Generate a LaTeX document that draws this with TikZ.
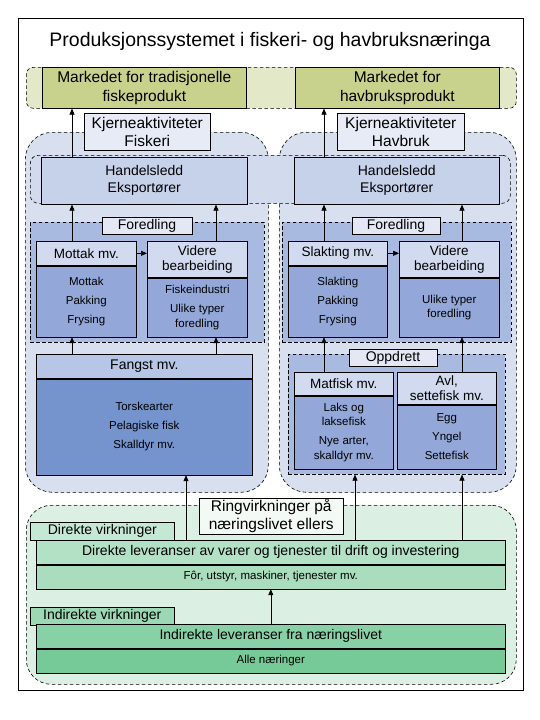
\documentclass[tikz,border=0pt]{standalone}
\usepackage{fontspec}
\setmainfont{Liberation Sans}
\usetikzlibrary{positioning,arrows.meta}

\definecolor{mktbg}{HTML}{E3E8C8}
\definecolor{mktfill}{HTML}{C9D28C}
\definecolor{regbg}{HTML}{D8E0F0}
\definecolor{bandbg}{HTML}{D2DBEE}
\definecolor{kjfill}{HTML}{E6EBF6}
\definecolor{handfill}{HTML}{C6D1EA}
\definecolor{procbg}{HTML}{A9BAE0}
\definecolor{tagfill}{HTML}{E3E8F4}
\definecolor{hdrfill}{HTML}{D2DAEF}
\definecolor{bodyfill}{HTML}{93A8D9}
\definecolor{fangsthdrfill}{HTML}{B7C5E6}
\definecolor{fangstbodyfill}{HTML}{7593CD}
\definecolor{ringbg}{HTML}{DBF0E3}
\definecolor{ringlblfill}{HTML}{F3FAF5}
\definecolor{dirtabfill}{HTML}{C5E8D4}
\definecolor{dirhdrfill}{HTML}{B2E1C6}
\definecolor{dirbodyfill}{HTML}{A9DDBE}
\definecolor{indtabfill}{HTML}{9DD8B5}
\definecolor{indhdrfill}{HTML}{88D1A6}
\definecolor{indbodyfill}{HTML}{76CA97}

\begin{document}
\begin{tikzpicture}[x=1pt,y=-1pt]
  % Settings
  \tikzset{
    frame/.style={draw, line width=.8pt, inner sep=0pt},
    heading/.style={font=\fontsize{19.5}{22}\selectfont},
    dashline/.style={draw, dash pattern=on 3.5pt off 2.5pt, line width=.6pt, inner sep=0pt},
    mktband/.style={dashline, rounded corners=7pt, fill=mktbg},
    mkt/.style={draw, line width=.6pt, fill=mktfill, align=center, inner sep=0pt, font=\fontsize{15.5}{19.5}\selectfont},
    region/.style={dashline, rounded corners=27pt, fill=regbg},
    handband/.style={dashline, rounded corners=8pt, fill=bandbg},
    kjerne/.style={draw, line width=.6pt, fill=kjfill, align=center, inner sep=0pt, font=\fontsize{15.5}{18}\selectfont},
    hand/.style={draw, line width=.6pt, fill=handfill, align=center, inner sep=0pt, font=\fontsize{14}{17}\selectfont},
    proc/.style={dashline, fill=procbg},
    tagbox/.style={draw, line width=.6pt, fill=tagfill, inner sep=0pt, font=\fontsize{14}{16}\selectfont},
    hdr/.style={draw, line width=.6pt, fill=hdrfill, align=center, inner sep=0pt, font=\fontsize{13.5}{15}\selectfont},
    body/.style={draw, line width=.6pt, fill=bodyfill, align=center, inner sep=0pt, font=\fontsize{11.5}{14.5}\selectfont},
    fangsthdr/.style={hdr, fill=fangsthdrfill, font=\fontsize{14}{16}\selectfont},
    fangstbody/.style={body, fill=fangstbodyfill},
    ringregion/.style={dashline, rounded corners=25pt, fill=ringbg},
    ringlbl/.style={draw, line width=.6pt, fill=ringlblfill, align=center, inner sep=0pt, font=\fontsize{15.5}{18}\selectfont},
    wide/.style={draw, line width=.6pt, inner sep=0pt, minimum width=469pt, minimum height=24pt},
    tabbox/.style={draw, line width=.6pt, inner sep=0pt, minimum width=144pt, minimum height=18pt, anchor=north west, font=\fontsize{14}{16}\selectfont},
    arr/.style={-{Triangle[length=6pt,width=5pt]}, line width=.6pt},
  }
  \useasboundingbox (0,0) rectangle (540,720);
  % Frame and title
  \node[frame, anchor=north west, minimum width=505pt, minimum height=672pt] (frame) at (18,18) {};
  \node[heading] (title) at (270,41) {Produksjonssystemet i fiskeri- og havbruksnæringa};
  % Markets
  \node[mktband, anchor=north west, minimum width=490pt, minimum height=41pt] (mktband) at (26,67) {};
  \node[mkt, anchor=north west, minimum width=204pt, minimum height=41pt] (mktfisk) at (42,67) {Markedet for tradisjonelle\\fiskeprodukt};
  \node[mkt, anchor=north west, minimum width=204pt, minimum height=41pt] (mkthav) at (295,67) {Markedet for\\havbruksprodukt};
  % Core activities
  \node[region, anchor=north west, minimum width=243pt, minimum height=360pt] (fiskeri) at (25,132) {};
  \node[region, anchor=north west, minimum width=237pt, minimum height=360pt] (havbruk) at (279,132) {};
  \node[handband, anchor=north west, minimum width=480pt, minimum height=48pt] (handband) at (30,155) {};
  \node[kjerne, anchor=north west, minimum width=126pt, minimum height=37pt] (kjfisk) at (84,113) {Kjerneaktiviteter\\Fiskeri};
  \node[kjerne, anchor=north west, minimum width=127pt, minimum height=37pt] (kjhav) at (337,113) {Kjerneaktiviteter\\Havbruk};
  \node[hand, anchor=north west, minimum width=206pt, minimum height=47pt] (handfisk) at (41,157) {Handelsledd\\Eksportører};
  \node[hand, anchor=north west, minimum width=205pt, minimum height=47pt] (handhav) at (294,157) {Handelsledd\\Eksportører};
  % Foredling
  \node[proc, anchor=north west, minimum width=234pt, minimum height=120pt] (foredfisk) at (30,222) {};
  \node[proc, anchor=north west, minimum width=229pt, minimum height=120pt] (foredhav) at (282,222) {};
  \node[tagbox, minimum width=90pt, minimum height=17pt] (tagfisk) at (147,225.5) {Foredling};
  \node[tagbox, minimum width=88pt, minimum height=17pt] (taghav) at (396,225.5) {Foredling};
  \node[hdr, anchor=north west, minimum width=100pt, minimum height=24pt] (mottak) at (36,241) {Mottak mv.};
  \node[body, minimum width=100pt, minimum height=71pt, below=0pt of mottak] (mottakb) {Mottak\\[4.5pt]Pakking\\[4.5pt]Frysing};
  \node[hdr, anchor=north west, minimum width=100pt, minimum height=36pt] (viderefisk) at (147,241) {Videre\\bearbeiding};
  \node[body, minimum width=100pt, minimum height=59pt, below=0pt of viderefisk] (viderefiskb) {Fiskeindustri\\[4.5pt]Ulike typer\\foredling};
  \node[hdr, anchor=north west, minimum width=99pt, minimum height=24pt] (slakting) at (288,241) {Slakting mv.};
  \node[body, minimum width=99pt, minimum height=71pt, below=0pt of slakting] (slaktingb) {Slakting\\[4.5pt]Pakking\\[4.5pt]Frysing};
  \node[hdr, anchor=north west, minimum width=100pt, minimum height=36pt] (viderehav) at (399,241) {Videre\\bearbeiding};
  \node[body, minimum width=100pt, minimum height=59pt, below=0pt of viderehav] (viderehavb) {Ulike typer\\foredling};
  % Fangst
  \node[fangsthdr, anchor=north west, minimum width=216pt, minimum height=24pt] (fangst) at (36,354) {Fangst mv.};
  \node[fangstbody, minimum width=216pt, minimum height=96pt, below=0pt of fangst] (fangstb) {Torskearter\\[4.5pt]Pelagiske fisk\\[4.5pt]Skalldyr mv.};
  % Oppdrett
  \node[proc, anchor=north west, minimum width=217pt, minimum height=120pt] (oppdrett) at (288,354) {};
  \node[tagbox, minimum width=88pt, minimum height=17pt] (tagopp) at (393,357.5) {Oppdrett};
  \node[hdr, anchor=north west, minimum width=99pt, minimum height=23pt] (matfisk) at (294,372) {Matfisk mv.};
  \node[body, minimum width=99pt, minimum height=73pt, below=0pt of matfisk] (matfiskb) {Laks og\\laksefisk\\[4.5pt]Nye arter,\\skalldyr mv.};
  \node[hdr, anchor=north west, minimum width=99pt, minimum height=32pt] (avl) at (397,372) {Avl,\\settefisk mv.};
  \node[body, minimum width=99pt, minimum height=64pt, below=0pt of avl] (avlb) {Egg\\[4.5pt]Yngel\\[4.5pt]Settefisk};
  % Ripple effects
  \node[ringregion, anchor=north west, minimum width=490pt, minimum height=179pt] (ring) at (26,505) {};
  \node[ringlbl, anchor=north west, minimum width=144pt, minimum height=36pt] (ringlbl) at (199,498) {Ringvirkninger på\\næringslivet ellers};
  \node[tabbox, fill=dirtabfill] (dirtab) at (30,522) {Direkte virkninger};
  \node[wide, fill=dirhdrfill, anchor=north west, font=\fontsize{14}{16}\selectfont] (direkte) at (36,540) {Direkte leveranser av varer og tjenester til drift og investering};
  \node[wide, fill=dirbodyfill, below=0pt of direkte, font=\fontsize{11.5}{14}\selectfont] (direkteb) {Fôr, utstyr, maskiner, tjenester mv.};
  \node[tabbox, fill=indtabfill] (indtab) at (30,607) {Indirekte virkninger};
  \node[wide, fill=indhdrfill, anchor=north west, font=\fontsize{14}{16}\selectfont] (indirekte) at (36,624) {Indirekte leveranser fra næringslivet};
  \node[wide, fill=indbodyfill, below=0pt of indirekte, font=\fontsize{11.5}{14}\selectfont] (indirekteb) {Alle næringer};
  % Arrows
  \coordinate (xa) at (72,0);
  \coordinate (xb) at (216,0);
  \coordinate (xc) at (324,0);
  \coordinate (xd) at (462,0);
  \coordinate (xe) at (186,0);
  \coordinate (xf) at (355,0);
  \draw[arr] (handfisk.north -| xa) -- (mktfisk.south -| xa);
  \draw[arr] (handhav.north -| xc) -- (mkthav.south -| xc);
  \draw[arr] (mottak.north -| xa) -- (handfisk.south -| xa);
  \draw[arr] (viderefisk.north -| xb) -- (handfisk.south -| xb);
  \draw[arr] (slakting.north -| xc) -- (handhav.south -| xc);
  \draw[arr] (viderehav.north -| xd) -- (handhav.south -| xd);
  \draw[arr] (mottak.east) -- (viderefisk.west |- mottak.east);
  \draw[arr] (slakting.east) -- (viderehav.west |- slakting.east);
  \draw[arr] (fangst.north -| xa) -- (mottakb.south -| xa);
  \draw[arr] (fangst.north -| xb) -- (viderefiskb.south -| xb);
  \draw[arr] (matfisk.north -| xc) -- (slaktingb.south -| xc);
  \draw[arr] (avl.north -| xd) -- (viderehavb.south -| xd);
  \draw[arr] (direkte.north -| xe) -- (fangstb.south -| xe);
  \draw[arr] (direkte.north -| xf) -- (oppdrett.south -| xf);
  \draw[arr] (direkte.north -| xd) -- (oppdrett.south -| xd);
  \draw[arr] (indirekte.north) -- (direkteb.south);
\end{tikzpicture}
\end{document}
